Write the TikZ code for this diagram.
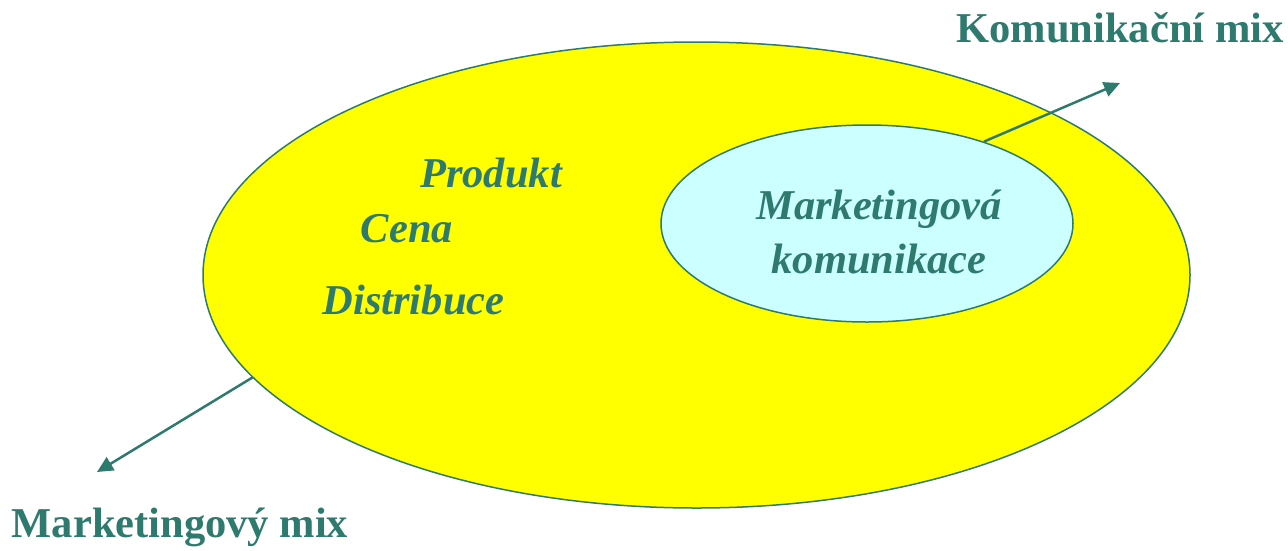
\documentclass[tikz,border=0pt]{standalone}
\usepackage{fontspec}
\setmainfont{Liberation Serif}
\usetikzlibrary{shapes.geometric,arrows.meta}
\definecolor{teal}{RGB}{47,122,110}
\definecolor{ylw}{RGB}{255,255,0}
\definecolor{lcyan}{RGB}{204,255,255}
\tikzset{
  lbl/.style={text=teal,font=\fontsize{42.5}{50}\selectfont\bfseries,inner sep=0pt},
  ilbl/.style={text=teal,font=\fontsize{42.5}{50}\selectfont\bfseries\itshape,inner sep=0pt,align=center},
  oval/.style={ellipse,draw=teal,line width=1.5pt,inner sep=0pt},
  arr/.style={draw=teal,line width=2.5pt,-{Triangle[length=16pt,width=15pt]}}
}
\begin{document}
\begin{tikzpicture}[x=1pt,y=-1pt]
\useasboundingbox (0,0) rectangle (1288,550);
\node[oval,fill=ylw,minimum width=987pt,minimum height=466pt] (outer) at (696.5,275) {};
\node[oval,fill=lcyan,minimum width=412pt,minimum height=197pt] (inner) at (867,223.5) {};
\node[ilbl] (mk) at (879,232) {Marketingová\\[4pt]komunikace};
\node[ilbl] (prod) at (491,173) {Produkt};
\node[ilbl] (cena) at (407,229) {Cena};
\node[ilbl] (dist) at (413.5,300) {Distribuce};
\node[lbl] (kmix) at (1120,28) {Komunikační mix};
\node[lbl] (mmix) at (180,527) {Marketingový mix};
\coordinate (a1) at (1120,83);
\coordinate (a2) at (97,472);
\draw[arr] (inner.35.8) -- (a1);
\draw[arr] (outer.193.65) -- (a2);
\end{tikzpicture}
\end{document}
